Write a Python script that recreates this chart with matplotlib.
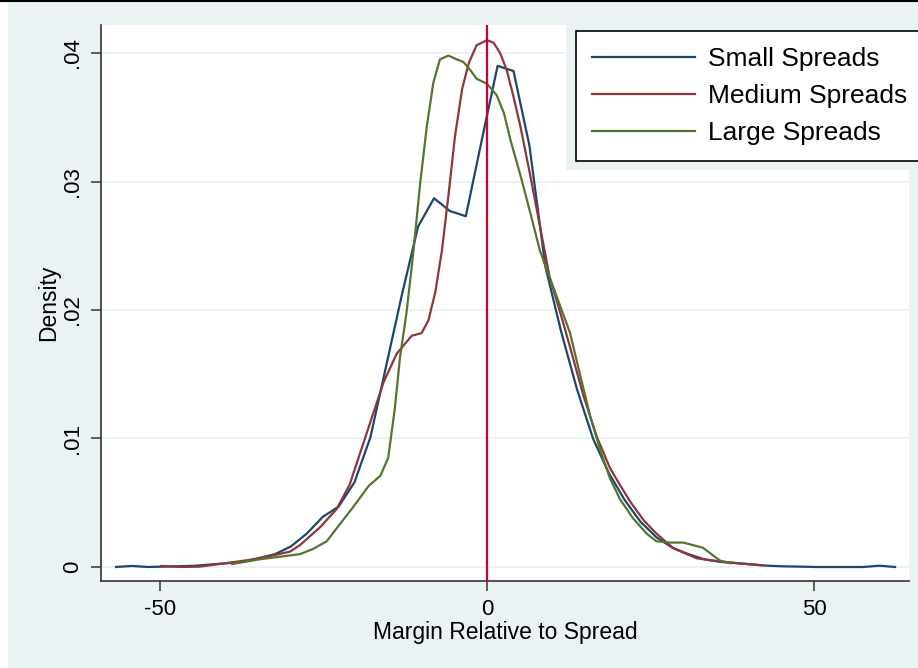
import matplotlib
matplotlib.use('Agg')
import matplotlib.pyplot as plt
from matplotlib.patches import Rectangle
from matplotlib.lines import Line2D

plt.rcParams['font.family'] = ['Liberation Sans', 'DejaVu Sans']

# small spreads: kdensity evaluated on 50 points
small_x = [-56.7, -54.27, -51.84, -49.41, -46.98, -44.55, -42.12, -39.69, -37.26, -34.83,
           -32.4, -29.97, -27.54, -25.11, -22.68, -20.25, -17.82, -15.39, -12.96, -10.53,
           -8.1, -5.67, -3.24, -0.81, 1.62, 4.05, 6.48, 8.91, 11.34, 13.77,
           16.2, 18.63, 21.06, 23.49, 25.92, 28.35, 30.78, 33.21, 35.64, 38.07,
           40.5, 42.93, 45.36, 47.79, 50.22, 52.65, 55.08, 57.51, 59.94, 62.37]
small_y = [0.0, 0.00008, 0.0, 0.00003, 0.00006, 0.0001, 0.0002, 0.0003, 0.0004, 0.0007,
           0.001, 0.0016, 0.0026, 0.0039, 0.0047, 0.0066, 0.0101, 0.0157, 0.0213, 0.0265,
           0.0287, 0.0277, 0.0273, 0.0332, 0.039, 0.0386, 0.0328, 0.0234, 0.0183, 0.0138,
           0.01, 0.0073, 0.0052, 0.0035, 0.0023, 0.0015, 0.001, 0.0006, 0.0004, 0.0003,
           0.0002, 0.0001, 0.00005, 0.00003, 0.0, 0.0, 0.0, 0.0, 0.0001, 0.0]

medium_x = [-49.8, -46.9, -43.9, -39.8, -34.7, -30.1, -28.6, -25.5, -23.0, -21.0,
            -18.4, -15.8, -13.8, -11.5, -10.0, -8.95, -7.9, -6.9, -5.9, -4.9,
            -3.8, -2.8, -1.6, 0.0, 1.0, 2.0, 3.0, 4.0, 5.1, 6.6,
            8.1, 9.6, 11.2, 12.7, 14.7, 16.8, 18.8, 20.3, 22.0, 24.0,
            25.9, 28.5, 32.1, 36.1, 39.7, 42.0]
medium_y = [0.00008, 0.0, 0.00003, 0.0003, 0.00067, 0.0012, 0.0017, 0.0031, 0.0045, 0.0064,
            0.0104, 0.0144, 0.0166, 0.018, 0.0182, 0.0192, 0.0214, 0.0246, 0.0289, 0.0335,
            0.0372, 0.0392, 0.0406, 0.041, 0.0408, 0.04, 0.0387, 0.0367, 0.0343, 0.0305,
            0.0265, 0.0225, 0.0198, 0.0171, 0.0134, 0.0101, 0.0077, 0.0064, 0.005, 0.0036,
            0.0026, 0.00145, 0.00067, 0.0004, 0.00023, 0.00013]

large_x = [-39.0, -34.7, -31.65, -28.6, -26.6, -24.5, -23.0, -20.4, -18.1, -16.3,
           -15.1, -14.1, -13.3, -12.3, -11.3, -10.25, -9.2, -8.2, -7.2, -5.9,
           -4.6, -3.6, -2.6, -1.6, 0.0, 1.5, 2.6, 3.6, 5.1, 6.6,
           8.1, 9.6, 11.2, 12.7, 14.2, 15.8, 17.3, 18.8, 20.3, 22.3,
           24.4, 25.9, 28.0, 30.0, 33.0, 35.6, 37.2]
large_y = [0.00023, 0.0006, 0.0008, 0.001, 0.0014, 0.002, 0.003, 0.0047, 0.0063, 0.0071,
           0.0085, 0.0123, 0.0163, 0.0198, 0.0243, 0.0297, 0.0343, 0.0377, 0.0395, 0.0398,
           0.0395, 0.0393, 0.0387, 0.038, 0.0376, 0.0367, 0.0353, 0.0332, 0.0305, 0.0276,
           0.0246, 0.0225, 0.0203, 0.0182, 0.015, 0.0117, 0.0091, 0.0069, 0.0053, 0.0038,
           0.0026, 0.002, 0.0019, 0.0019, 0.0015, 0.0005, 0.0003]

series_names = ['Small Spreads', 'Medium Spreads', 'Large Spreads']
series_colors = ['#1A476F', '#90353B', '#55752F']
x_ticks = [-50, 0, 50]
x_tick_labels = ['-50', '0', '50']
y_ticks = [0, 0.01, 0.02, 0.03, 0.04]
y_tick_labels = ['0', '.01', '.02', '.03', '.04']

BG = '#EAF2F3'

fig = plt.figure(figsize=(9.18, 6.68), dpi=100, facecolor='white')
# stata graph region (screenshot has a white strip on the left and a black line on top)
fig.patches.append(Rectangle((8 / 918, 0), 1, 1 - 2 / 668, transform=fig.transFigure,
                             facecolor=BG, edgecolor='none', zorder=-1))
fig.lines.append(Line2D([0, 1], [1 - 1 / 668, 1 - 1 / 668], transform=fig.transFigure,
                        color='black', lw=1.5, zorder=5))

ax = fig.add_axes([101 / 918, 1 - 581 / 668, 808 / 918, 556 / 668])
ax.set_facecolor('white')

for xs, ys, name, col in zip([small_x, medium_x, large_x], [small_y, medium_y, large_y],
                             series_names, series_colors):
    ax.plot(xs, ys, color=col, lw=1.6, label=name, zorder=3)

ax.axvline(0, color='#CC0033', lw=1.6, zorder=4)

ax.set_xlim(-59.0, 64.5)
ax.set_ylim(-0.00109, 0.04218)
ax.set_xticks(x_ticks)
ax.set_xticklabels(x_tick_labels)
ax.set_yticks(y_ticks)
ax.set_yticklabels(y_tick_labels, rotation=90, va='center')
ax.grid(axis='y', color=BG, lw=1.5, zorder=1)
ax.set_axisbelow(True)

for side in ['top', 'right']:
    ax.spines[side].set_visible(False)
for side in ['left', 'bottom']:
    ax.spines[side].set_color('#333333')
    ax.spines[side].set_linewidth(1.2)
ax.tick_params(axis='both', length=7, width=1.1, color='#333333', labelsize=16, pad=6)

ax.set_xlabel('Margin Relative to Spread', fontsize=16.5, labelpad=1)
ax.set_ylabel('Density', fontsize=16.5, labelpad=1)

# legend sits on its own light region over the plot
fig.patches.append(Rectangle((566 / 918, 1 - 170 / 668), 1, 170 / 668, transform=fig.transFigure,
                             facecolor=BG, edgecolor='none', zorder=2))
leg = fig.legend(loc='upper left', bbox_to_anchor=(576 / 918, 1 - 155 / 668, 360 / 918, 124 / 668),
                 mode='expand', fontsize=19, handlelength=3.9, handletextpad=0.5,
                 labelspacing=0.5, borderpad=0.6, borderaxespad=0, frameon=True,
                 fancybox=False, framealpha=1)
leg.get_frame().set_edgecolor('black')
leg.get_frame().set_linewidth(1.2)
leg.set_zorder(6)

fig.savefig('out.png', dpi=100, facecolor=fig.get_facecolor())
